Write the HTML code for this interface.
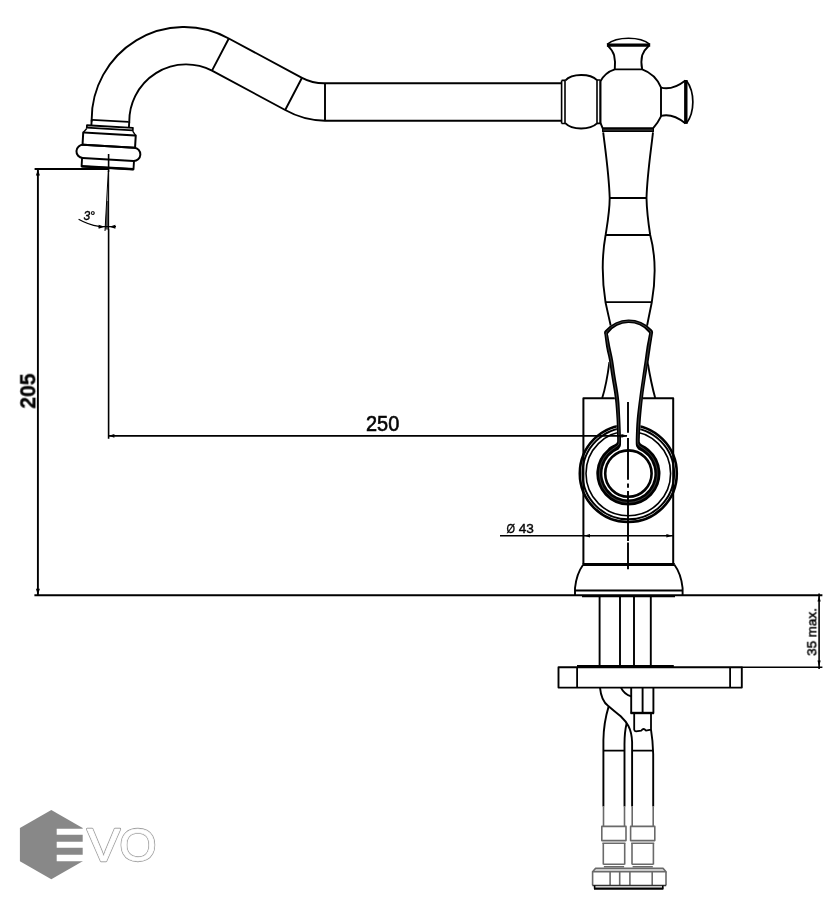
<!DOCTYPE html>
<html><head><meta charset="utf-8"><title>EVO</title>
<style>
html,body{margin:0;padding:0;background:#fff;}
body{width:831px;height:900px;overflow:hidden;font-family:"Liberation Sans",sans-serif;}
svg{display:block;}
text{font-family:"Liberation Sans",sans-serif;}
</style></head><body>
<svg width="831" height="900" viewBox="0 0 831 900">
<rect width="831" height="900" fill="#fff"/>
<g fill="none" stroke="#000" stroke-width="1.9" stroke-linecap="butt" stroke-linejoin="round">
<!-- spout -->
<path d="M91.7,121.4 A92.5 92.5 0 0 1 228.8,38.5 L302,77.8 A47 47 0 0 0 325,83.3 L561,83.3"/>
<path d="M129.3,122.4 A56.9 56.9 0 0 1 212,70.6 L285.2,110 A83 83 0 0 0 325,120.7 L561,120.7"/>
<path d="M228.8,38.5 L212,70.6 M302,77.8 L285.2,110 M325,83.3 V120.7"/>
<g transform="translate(110.25,120.9) rotate(3.3)">
<path d="M-18.2,0 H18.4" stroke-width="1.7"/>
<path d="M-18.6,0 V5.6 M19,0 V5.6"/>
<path d="M-23,5.7 H23 M-23,8.1 H23 M-23,5 V9 M23,5 V9" stroke-width="1.8"/>
<path d="M-23,9 L-26.3,13.2 M23,9 L26.3,13.2" stroke-width="1.4"/>
<rect x="-26.3" y="13.2" width="52.6" height="12.2" stroke-width="2"/>
<rect x="-32" y="25.4" width="64" height="13.2" rx="6.6" ry="6.6" stroke-width="2"/>
<path d="M-26,38.6 V47 H26 V38.6" stroke-width="1.9"/>
<path d="M-26,47 H26" stroke-width="2.6"/>
</g>
<!-- ring1 / ball / ring2 -->
<path d="M561.6,80.4 V123.5 M565,80.4 V123.5 M561.6,80.4 H565 M561.6,123.5 H565" stroke-width="1.6"/>
<path d="M565.2,80.6 C572,73.2 590,73.2 597,80.2 M565.2,123.2 C572,130.2 590,130.2 597,123.4"/>
<path d="M597,80 V123.4 M600.4,80 V123.4 M597,80 H600.4 M597,123.4 H600.4" stroke-width="1.6"/>
<!-- cross body -->
<path d="M600.4,81.4 C603,76.4 608,71.6 614.8,69.4 H642.2 C650.5,72.4 657.6,79.4 661,87.4 V116.4 C659,120.6 656.4,124.6 653.2,128.2 H602.6 L600.4,122.7 Z"/>
<!-- top knob -->
<path d="M614.8,69.4 C615.4,64 615.2,60 614.1,55.3 C613,51.6 610.6,48.4 607.6,45.4 M642.2,69.4 C641,64 641,60 642.2,55.3 C643.4,51.6 645.6,48.8 648.8,45.8"/>
<path d="M606.9,45.2 H650.2" stroke-width="3.3"/>
<path d="M607.2,44.4 C617,36.2 640,36.2 649.8,44.4" stroke-width="1.7"/>
<!-- right knob -->
<path d="M661,87.6 C668,89.4 677,87 685.4,80.4 M661,115.9 C668,114 677,116.6 685.6,123.4"/>
<path d="M685.8,80 V123.8" stroke-width="3.4"/>
<path d="M686.4,80.4 C695,92 695,112 686.4,123.4" stroke-width="1.7"/>
<!-- stem -->
<path d="M602.6,128.6 H653.4 V131.4 H602.6 Z" fill="#333" stroke-width="1.2"/>
<path d="M603.2,132.3 C606,155 609,175 609.7,198 C609.6,212 607,226 605.6,235 C602,255 602,280 605.5,302.2 C607,309 609,318 610.8,326"/>
<path d="M653,132.3 C650.4,155 647.2,175 646.5,198 C646.8,212 648.8,226 650.2,235 C655.6,255 655.6,280 651.8,302.2 C650.4,309 648.6,318 647,326"/>
<path d="M609.7,198 H646.5 M605.6,235 H650.2 M605.5,302.2 H651.8" stroke-width="1.8"/>
<path d="M609.4,362 C608,373 605.4,388 602.2,398 M647.6,362 C649.4,373 652.4,388 655.2,398"/>
<!-- body -->
<path d="M583.4,564 V398.2 H615 M642.6,398.2 H673.2 V564" stroke-width="2"/>
<path d="M582.6,564.6 H674.8" stroke-width="3"/>
<!-- base -->
<path d="M583.1,564.7 C579.4,569.8 576,578.4 575,588 V595.4 M674.4,564.7 C678.2,569.8 681.6,578.4 682.6,588 V595.4"/>
<path d="M575,590.5 H682.6" stroke-width="2"/>
<path d="M582,596.3 H675" stroke-width="1.9"/>
<!-- circles -->
<circle cx="628.3" cy="473.5" r="48.5" stroke-width="2.6"/>
<circle cx="628.3" cy="473.5" r="45.8" stroke-width="2"/>
<circle cx="628.3" cy="473.5" r="42.3" stroke-width="1.6"/>
<!-- handle -->
<path d="M604.4,334.6 Q603.4,331.8 605.2,330.3 A31.5 31.5 0 0 1 651.8,329.5 Q653.6,331 652.9,333.8 C652.52,336.25 651.27,344.13 650.60,348.50 C649.93,352.87 649.67,355.28 648.90,360.00 C648.13,364.72 646.98,370.48 646.00,376.80 C645.02,383.12 643.85,390.87 643.00,397.90 C642.15,404.93 641.42,412.48 640.90,419.00 C640.38,425.52 640.08,433.20 639.90,437.00 C639.72,440.80 639.82,441.00 639.80,441.80 Q639.9,443.6 642,444.6 C644.6,445.8 647,447.2 649,448.9 A32.1 32.1 0 1 1 607.8,448.9 C609.4,447.2 611.4,445.8 614.4,444.6 Q617,443.6 617.1,441.8 C617.10,441.03 617.20,441.00 617.10,437.20 C617.00,433.40 616.88,425.55 616.50,419.00 C616.12,412.45 615.65,404.93 614.80,397.90 C613.95,390.87 612.38,383.12 611.40,376.80 C610.42,370.48 609.73,364.72 608.90,360.00 C608.07,355.28 607.15,352.73 606.40,348.50 C605.65,344.27 604.73,336.92 604.40,334.60 Z" fill="#fff" stroke="none"/>
<path d="M604.4,334.6 Q603.4,331.8 605.2,330.3 A31.5 31.5 0 0 1 651.8,329.5 Q653.6,331 652.9,333.8 C652.52,336.25 651.27,344.13 650.60,348.50 C649.93,352.87 649.67,355.28 648.90,360.00 C648.13,364.72 646.98,370.48 646.00,376.80 C645.02,383.12 643.85,390.87 643.00,397.90 C642.15,404.93 641.42,412.48 640.90,419.00 C640.38,425.52 640.08,433.20 639.90,437.00 C639.72,440.80 639.82,441.00 639.80,441.80 Q639.9,443.6 642,444.6 C644.6,445.8 647,447.2 649,448.9 A32.1 32.1 0 1 1 607.8,448.9 C609.4,447.2 611.4,445.8 614.4,444.6 Q617,443.6 617.1,441.8 C617.10,441.03 617.20,441.00 617.10,437.20 C617.00,433.40 616.88,425.55 616.50,419.00 C616.12,412.45 615.65,404.93 614.80,397.90 C613.95,390.87 612.38,383.12 611.40,376.80 C610.42,370.48 609.73,364.72 608.90,360.00 C608.07,355.28 607.15,352.73 606.40,348.50 C605.65,344.27 604.73,336.92 604.40,334.60 Z M608.3,335.6 Q607.6,334 608.4,333.2 A25.5 25.5 0 0 1 648.6,332.4 Q649.4,333.2 648.8,334.8 C648.38,337.08 646.98,344.30 646.30,348.50 C645.62,352.70 645.38,355.28 644.70,360.00 C644.02,364.72 643.12,370.48 642.20,376.80 C641.28,383.12 640.12,390.87 639.20,397.90 C638.28,404.93 637.27,412.48 636.70,419.00 C636.13,425.52 635.95,432.73 635.80,437.00 C635.65,441.27 635.80,443.33 635.80,444.60 Q635.8,446.6 637,447.8 L638.2,449.4 A26 26 0 1 1 618.6,449.4 L619.8,447.8 Q621,446.6 621,444.6 C621.00,443.37 621.12,441.47 621.00,437.20 C620.88,432.93 620.63,425.55 620.30,419.00 C619.97,412.45 619.78,404.93 619.00,397.90 C618.22,390.87 616.58,383.12 615.60,376.80 C614.62,370.48 613.92,364.72 613.10,360.00 C612.28,355.28 611.50,352.57 610.70,348.50 C609.90,344.43 608.70,337.75 608.30,335.60 Z" fill="#000" fill-rule="evenodd" stroke="none"/>
<path d="M606.35,335.10 Q605.6,332.6 606.8,331.6 A28.5 28.5 0 0 1 650.2,330.8 Q651.4,331.8 650.85,334.30 C650.45,336.67 649.12,344.22 648.45,348.50 C647.78,352.78 647.52,355.28 646.80,360.00 C646.07,364.72 645.05,370.48 644.10,376.80 C643.15,383.12 641.98,390.87 641.10,397.90 C640.22,404.93 639.34,412.48 638.80,419.00 C638.26,425.52 638.02,432.97 637.85,437.00 C637.68,441.03 637.81,442.17 637.80,443.20 Q638,445.4 640,446.4 L644,449 A29 29 0 1 1 612.8,449 L616.6,446.4 Q619,445.2 619.05,443.20 C619.05,442.20 619.16,441.23 619.05,437.20 C618.94,433.17 618.76,425.55 618.40,419.00 C618.04,412.45 617.72,404.93 616.90,397.90 C616.08,390.87 614.48,383.12 613.50,376.80 C612.52,370.48 611.83,364.72 611.00,360.00 C610.17,355.28 609.32,352.65 608.55,348.50 C607.77,344.35 606.72,337.33 606.35,335.10 Z" stroke="#fff" stroke-width="0.8" opacity="0.3"/>
<circle cx="628.4" cy="473.6" r="23.2" stroke-width="2.6"/>
<path d="M628,402 V432.8 M628,437.9 V479.8 M628,483.4 V487.8 M628,491 V541 M628,542.6 V569.2" stroke-width="1.9"/>
<!-- under base -->
<path d="M599.6,597 V666 M620,597 V666 M634,597 V666 M650.8,597 V666" stroke-width="1.9"/>
<rect x="558.5" y="667.2" width="183.3" height="20.4" stroke-width="1.9"/>
<path d="M577.1,667.2 V687.6 M730.1,667.2 V687.6" stroke-width="1.8"/>
<path d="M577,666.4 H673.8" stroke-width="2.6"/>
<path d="M631.2,687.6 V713 H653.4 V687.6 M642.6,687.6 V713" stroke-width="1.9"/>
<path d="M630.6,713 H654" stroke-width="2.4"/>
<path d="M634.2,713 V729.6 Q634.4,731.2 636,731.4 L641.4,730.6 Q643.6,727.4 645.8,730.6 L651,729.6 V713" stroke-width="1.8"/>
<path d="M600,687.6 C601,698 604.6,703.4 608.3,706 C612.4,709.6 617,713 620.7,716.3 C626.6,722 631.6,728 632.1,742 V806.5" stroke-width="1.9"/>
<path d="M621,687.6 C623,692 627,695 631.2,696.4" stroke-width="1.9"/>
<path d="M608.6,706.6 C605.4,717 603.6,728 603.4,740 V806.5" stroke-width="1.9"/>
<path d="M626.6,723.5 C625,730 624.4,738 624.5,746 V806.5" stroke-width="1.9"/>
<path d="M651,729.6 C652.4,738 653,746 653.2,754 V806.5" stroke-width="1.9"/>
<path d="M603.5,750.6 H624.5 M632.2,750.6 H653.2" stroke-width="1.9"/>
<g stroke="#6a6a6a" stroke-width="1.6">
<path d="M603.5,806.5 V826.4 M624.5,806.5 V826.4 M632.2,806.5 V826.4 M653.2,806.5 V826.4"/>
<rect x="601.8" y="826.4" width="24.2" height="14.2"/>
<rect x="630.6" y="826.4" width="24.2" height="14.2"/>
<path d="M602.4,843.2 H625.4 M631.2,843.2 H654.2"/>
<path d="M603.3,843.2 V864.4 M624.7,843.2 V864.4 M632,843.2 V864.4 M653.4,843.2 V864.4"/>
<path d="M603.3,864.3 H624.7 M632,864.3 H653.4 M603.9,866.7 H624.1 M632.6,866.7 H652.8"/>
<path d="M595.6,868.2 H663 L666,871.8 H592.6 Z"/>
<path d="M594,870 H664.6" stroke-width="0.7"/>
<path d="M592.6,871.8 V885.2 M666,871.8 V885.2"/>
<path d="M610.1,871.8 V885 M619.7,871.8 V885 M629.9,871.8 V885 M652.2,871.8 V885" />
</g>
<path d="M592.4,885.4 H666.2" stroke-width="1.5" stroke="#333"/>
<path d="M594.6,885.6 V888.8 M662.8,888.8 V885.6" stroke-width="1.6"/>
<path d="M594,888.7 H663.4" stroke-width="2.2"/>
<!-- dims -->
<path d="M34.6,169 H108.6" stroke-width="2.2"/>
<path d="M37.9,169 V595" stroke-width="1.9"/>
<path d="M34.4,595.3 H822.4" stroke-width="1.9"/>
<path d="M108.6,154 V172 M108.6,229 V438.8" stroke-width="1.6"/>
<path d="M108.6,172 V229" stroke-width="1.1"/>
<path d="M108.3,171 L105,231" stroke-width="1"/>
<path d="M107.6,186 L105.1,229.6 H108.6 V186 Z" fill="#000" stroke="none" opacity="0.25"/>
<path d="M106.8,201 L105.1,229.6 H108.8 V201 Z" fill="#000" stroke="none" opacity="0.6"/>
<path d="M78.6,219.2 Q88,224.6 99,226.4 M98,226.7 H116" stroke-width="1.2"/>
<path d="M108,435.85 H627" stroke-width="1.9"/>
<path d="M500,535.7 H674" stroke-width="1.6"/>
<path d="M741.8,667.2 H822.4" stroke-width="1.5"/>
<path d="M819.1,593.4 V669" stroke-width="1.6"/>
</g>
<g fill="#000" stroke="none">
<path d="M37.9,169.6 L35.9,175.6 H39.9 Z"/>
<path d="M37.9,594.8 L35.9,588.8 H39.9 Z"/>
<path d="M108.8,435.85 L114.4,434 V437.7 Z"/>
<path d="M627.4,435.85 L621.4,434 V437.7 Z"/>
<path d="M584,535.7 L590,534 V537.4 Z"/>
<path d="M672.4,535.7 L666.4,534 V537.4 Z"/>
<path d="M819.1,595.6 L817.5,601.6 H820.7 Z"/>
<path d="M819.1,666.6 L817.5,660.6 H820.7 Z"/>
<path d="M104.6,226.7 L98.6,224.7 V228.7 Z"/>
<path d="M109.4,226.7 L115.4,224.7 V228.7 Z"/>
</g>
<g fill="#000" opacity="0.99">
<text transform="translate(35.3,408.7) rotate(-90) scale(0.98,1)" font-size="21.6" font-weight="bold" stroke="#000" stroke-width="0.3">205</text>
<text transform="translate(366,431.4) scale(0.94,1)" font-size="21.2" stroke="#000" stroke-width="0.6">250</text>
<text x="518.8" y="532.5" font-size="13.6" stroke="#000" stroke-width="0.4">43</text>
<text transform="translate(816.3,655.8) rotate(-90)" font-size="13.4" stroke="#000" stroke-width="0.5">35 max.</text>
<text x="83.4" y="220.2" font-size="12" font-style="italic" stroke="#000" stroke-width="0.4">3°</text>
</g>
<text transform="translate(506.4,532.6) scale(0.86,1)" font-size="12.8" fill="#000" stroke="#000" stroke-width="0.35" opacity="0.99">Ø</text>
<!-- logo -->
<path d="M51.3,809.9 L82.7,828.1 V861.2 L51.3,879.2 L19.9,861.2 V828.1 Z" fill="#888"/>
<path d="M56.7,828.7 H83 V834.8 H56.7 Z M56.7,841.7 H83 V847.8 H56.7 Z M56.7,854.7 H83 V861.2 H56.7 Z" fill="#fff"/>
<g font-size="46.4" style="filter:grayscale(1)"><title>EVO</title>
<g fill="#fff" stroke="#a0a0a0" stroke-width="2.3" stroke-linejoin="round"><text transform="translate(86.9,861.3) scale(1.07,1.001)">V</text><text transform="translate(119.6,861.3) scale(1.02,1.001)">O</text></g>
<g fill="#fff" stroke="#fff" stroke-width="0.7" stroke-linejoin="round"><text transform="translate(86.9,861.3) scale(1.07,1.001)">V</text><text transform="translate(119.6,861.3) scale(1.02,1.001)">O</text></g>
</g>
</svg>
</body></html>
